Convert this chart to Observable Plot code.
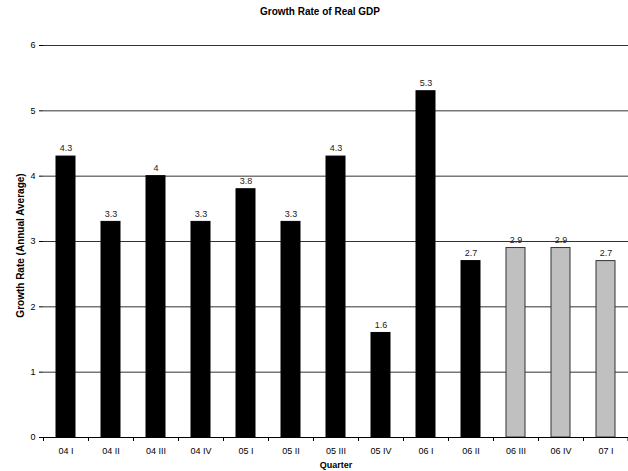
<!DOCTYPE html>
<html>
<head>
<meta charset="utf-8">
<script src="https://cdn.jsdelivr.net/npm/d3@7"></script>
<script src="https://cdn.jsdelivr.net/npm/@observablehq/plot@0.6"></script>
<style>
  body { margin: 0; background: #fff; }
  #wrap { position: relative; width: 628px; height: 471px; font-family: "Liberation Sans", Arial, sans-serif; }
  #title { position: absolute; left: 0; width: 640px; top: 6px; text-align: center; font-weight: bold; font-size: 10px; color: #000; }
  #chart svg { display: block; }
</style>
</head>
<body>
<div id="wrap">
  <div id="chart"></div>
  <div id="title">Growth Rate of Real GDP</div>
</div>
<script>
const quarters = ["04 I", "04 II", "04 III", "04 IV", "05 I", "05 II", "05 III", "05 IV", "06 I", "06 II", "06 III", "06 IV", "07 I"];
const growth = [4.3, 3.3, 4, 3.3, 3.8, 3.3, 4.3, 1.6, 5.3, 2.7, 2.9, 2.9, 2.7];
const forecast = [false, false, false, false, false, false, false, false, false, false, true, true, true];
const yTicks = [0, 1, 2, 3, 4, 5, 6];
const gridLines = [1, 2, 3, 4, 5, 6];

const data = quarters.map((q, i) => ({quarter: q, value: growth[i], forecast: forecast[i]}));

const W = 628, H = 471, mL = 43, mR = 0;
const step = (W - mL - mR) / quarters.length;

const chart = Plot.plot({
  width: W,
  height: H,
  marginTop: 45,
  marginBottom: 34,
  marginLeft: mL,
  marginRight: mR,
  style: {fontFamily: "'Liberation Sans', Arial, sans-serif", fontSize: "9px", color: "#000", background: "#fff"},
  x: {domain: quarters, paddingInner: 0.58, paddingOuter: 0.29, label: null},
  y: {domain: [0, 6], label: null},
  marks: [
    Plot.ruleY(gridLines, {stroke: "#333", strokeWidth: 1}),
    Plot.barY(data, {
      x: "quarter", y: "value",
      fill: d => d.forecast ? "#c0c0c0" : "#000",
      stroke: d => d.forecast ? "#333" : "#000",
      strokeWidth: 1
    }),
    Plot.text(data, {x: "quarter", y: "value", text: d => String(d.value), dy: -8, fontSize: 9, fill: "#222"}),
    Plot.axisY(yTicks, {tickSize: 4, tickPadding: 4, fontSize: 9, label: null, stroke: "#000", tickFormat: d => String(d)}),
    Plot.ruleX([0], {stroke: "#000"}),
    Plot.ruleY([0], {stroke: "#000"}),
    Plot.axisX({tickSize: 0, tickPadding: 10, fontSize: 9, label: null}),
    Plot.ruleX(quarters, {x: d => d, y1: 0, y2: 0, dx: -step / 2, insetBottom: -4, stroke: "#000"}),
    Plot.ruleX([quarters[quarters.length - 1]], {x: d => d, y1: 0, y2: 0, dx: step / 2 - 0.5, insetBottom: -4, stroke: "#000"}),
    Plot.text(["Quarter"], {frameAnchor: "bottom", dy: 30, text: d => d, fontWeight: "bold", fontSize: 9}),
    Plot.text(["Growth Rate (Annual Average)"], {frameAnchor: "left", textAnchor: "middle", dx: -23, dy: 4, rotate: -90, text: d => d, fontWeight: "bold", fontSize: 10})
  ]
});
document.getElementById("chart").appendChild(chart);
</script>
</body>
</html>
